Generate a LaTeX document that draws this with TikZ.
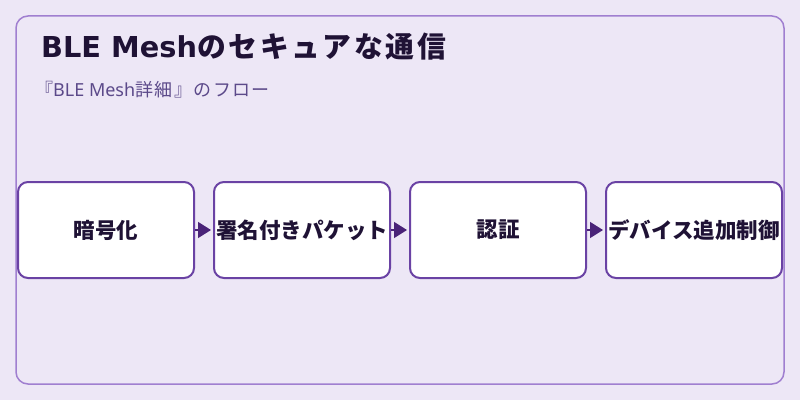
\documentclass[tikz,border=0pt]{standalone}
\usepackage{fontspec}
\setmainfont{Noto Sans CJK JP}
\newfontfamily\jpflat{Noto Sans CJK JP}
\newfontfamily\latinbold{DejaVu Sans Bold}
\newfontfamily\latinreg{Noto Sans}
\usetikzlibrary{positioning,arrows.meta}
\definecolor{bgcol}{HTML}{EDE7F6}
\definecolor{framecol}{HTML}{A07FD0}
\definecolor{boxcol}{HTML}{6A42A4}
\definecolor{arrowcol}{HTML}{4A2378}
\definecolor{titlecol}{HTML}{1F1235}
\definecolor{subcol}{HTML}{5C4A8A}
\tikzset{
  flowbox/.style={draw=boxcol, line width=2pt, fill=white, rounded corners=10pt,
    minimum width=176pt, minimum height=96pt, inner sep=0pt,
    font=\fontsize{21.5}{25}\selectfont\bfseries, text=titlecol},
  flowarrow/.style={draw=arrowcol, line width=1.5pt, -{Triangle[length=13pt,width=16pt]}, shorten >=2pt}
}
\begin{document}
\begin{tikzpicture}
\def\gap{18pt} %space between the boxes
\useasboundingbox[fill=bgcol] (0pt,0pt) rectangle (800pt,400pt);
\draw[framecol, line width=1.5pt, rounded corners=12pt] (16pt,16pt) rectangle (784pt,384pt); %outer frame
\node[anchor=base west, text=titlecol, inner sep=0pt,
  font=\fontsize{28.8}{32}\selectfont\jpflat\bfseries\addfontfeatures{LetterSpace=9.5}]
  (title) at (41pt,343pt) {{\latinbold BLE Mesh}のセキュアな通信};
\node[anchor=base west, text=subcol, inner sep=0pt,
  font=\fontsize{18}{22}\selectfont\jpflat\addfontfeatures{LetterSpace=8}]
  (subtitle) at (35pt,304pt) {『{\latinreg BLE Mesh}詳細』のフロー};
% the four steps
\node[flowbox] (enc) at (106pt,170pt) {暗号化};
\node[flowbox, right=\gap of enc] (sign) {署名付きパケット};
\node[flowbox, right=\gap of sign] (auth) {認証};
\node[flowbox, right=\gap of auth] (ctrl) {デバイス追加制御};
\draw[flowarrow] (enc) -- (sign);
\draw[flowarrow] (sign) -- (auth);
\draw[flowarrow] (auth) -- (ctrl);
\end{tikzpicture}
\end{document}
